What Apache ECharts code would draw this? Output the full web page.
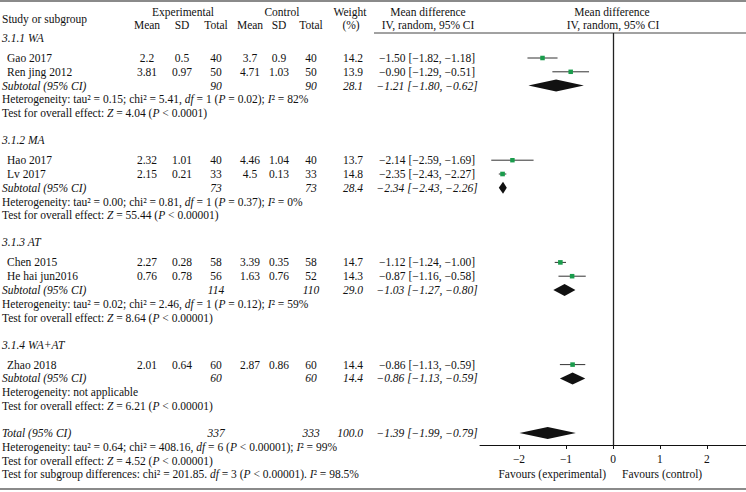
<!DOCTYPE html>
<html><head><meta charset="utf-8">
<script src="https://cdn.jsdelivr.net/npm/echarts@6/dist/echarts.min.js"></script>
<style>html,body{margin:0;padding:0;background:#fff}#c{width:746px;height:492px}</style>
</head><body><div id="c"></div>
<script>
// ================= DATA =================
const groupNames = ["3.1.1 WA", "3.1.2 MA", "3.1.3 AT", "3.1.4 WA+AT"];
const studyNames = ["Gao 2017", "Ren jing 2012", "Hao 2017", "Lv 2017", "Chen 2015", "He hai jun2016", "Zhao 2018"];
const studyGroup = [0, 0, 1, 1, 2, 2, 3];
const expMean  = [2.2, 3.81, 2.32, 2.15, 2.27, 0.76, 2.01];
const expSD    = [0.5, 0.97, 1.01, 0.21, 0.28, 0.78, 0.64];
const expTotal = [40, 50, 40, 33, 58, 56, 60];
const ctlMean  = [3.7, 4.71, 4.46, 4.5, 3.39, 1.63, 2.87];
const ctlSD    = [0.9, 1.03, 1.04, 0.13, 0.35, 0.76, 0.86];
const ctlTotal = [40, 50, 40, 33, 58, 52, 60];
const weight   = [14.2, 13.9, 13.7, 14.8, 14.7, 14.3, 14.4];
const md       = [-1.50, -0.90, -2.14, -2.35, -1.12, -0.87, -0.86];
const mdLow    = [-1.82, -1.29, -2.59, -2.43, -1.24, -1.16, -1.13];
const mdHigh   = [-1.18, -0.51, -1.69, -2.27, -1.00, -0.58, -0.59];

const subExpTotal = [90, 73, 114, 60];
const subCtlTotal = [90, 73, 110, 60];
const subWeight   = [28.1, 28.4, 29.0, 14.4];
const subMd       = [-1.21, -2.34, -1.03, -0.86];
const subLow      = [-1.80, -2.43, -1.27, -1.13];
const subHigh     = [-0.62, -2.26, -0.80, -0.59];
const subTau2 = ["0.15", "0.00", "0.02", null];
const subChi2 = ["5.41", "0.81", "2.46", null];
const subDf   = [1, 1, 1, null];
const subP    = ["= 0.02", "= 0.37", "= 0.12", null];
const subI2   = ["82", "0", "59", null];
const subZ    = ["4.04", "55.44", "8.64", "6.21"];
const subZP   = ["< 0.0001", "< 0.00001", "< 0.00001", "< 0.00001"];

const totalExp = 337, totalCtl = 333, totalWeight = 100.0;
const totalMd = -1.39, totalLow = -1.99, totalHigh = -0.79;
const totalTau2 = "0.64", totalChi2 = "408.16", totalDf = 6, totalP = "< 0.00001", totalI2 = "99";
const totalZ = "4.52", totalZP = "< 0.00001";
const sgChi2 = "201.85", sgDf = 3, sgP = "< 0.00001", sgI2 = "98.5";

const xTicks = [-2, -1, 0, 1, 2];
const xLabelLeft = "Favours (experimental)";
const xLabelRight = "Favours (control)";

// ================= LAYOUT / STYLE =================
const W = 746, H = 492;
const FONT = '"Liberation Serif","Times New Roman",serif';
const FS = 11.5;
const INK = "#111";
const GREEN = "#1a9c4c";
const COL = {name: 2, study: 7, expMean: 147, expSD: 182, expTot: 216, ctlMean: 250, ctlSD: 279, ctlTot: 311, weight: 363, ci: 427};
const L = {h: 13.8, gapHead: 20, gapSec: 27, firstHead: 38};
const GRID = {left: 480, top: 33, axisY: 445};
const XR = [-2.83, 2.83];

// compute row positions
const headY = [], studyY = [], subY = [], hetY = [], testY = [];
let yy = L.firstHead;
for (let g = 0; g < groupNames.length; g++) {
  headY[g] = yy; yy += L.gapHead;
  for (let i = 0; i < studyNames.length; i++) {
    if (studyGroup[i] === g) { studyY[i] = yy; yy += L.h; }
  }
  subY[g] = yy; yy += L.h;
  hetY[g] = yy; yy += L.h;
  testY[g] = yy; yy += L.gapSec;
}
const totalY = yy, totHetY = yy + L.h, totTestY = yy + 2 * L.h, sgY = yy + 3 * L.h;

const neg = s => String(s).replace(/-/g, "\u2212");
const f2 = v => neg(v.toFixed(2));
const ciStr = (m, lo, hi) => `${f2(m)} [${f2(lo)}, ${f2(hi)}]`;

const richStyles = {
  i: {fontFamily: FONT, fontSize: FS, fontStyle: "italic", fill: INK},
  n: {fontFamily: FONT, fontSize: FS, fontStyle: "normal", fill: INK}
};
function T(x, y, text, align, italic) {
  align = align || "left";
  return {
    type: "text", silent: true, z: 10,
    style: {
      text: text, x: x, y: y, fill: INK,
      fontFamily: FONT, fontSize: FS, fontStyle: italic ? "italic" : "normal",
      align: align, verticalAlign: "middle", textAlign: align, textVerticalAlign: "middle",
      rich: richStyles
    }
  };
}
function hetText(tau2, chi2, df, p, i2) {
  return `Heterogeneity: tau\u00b2 = ${tau2}; chi\u00b2 = ${chi2}, {i|df} = ${df} ({i|P} ${p}); {i|I}\u00b2 = ${i2}%`;
}

const g = [];
// rules
g.push({type: "line", silent: true, shape: {x1: 0, y1: 1, x2: W, y2: 1}, style: {stroke: "#8a8a8a", lineWidth: 2}});
g.push({type: "line", silent: true, shape: {x1: 374, y1: GRID.top, x2: W, y2: GRID.top}, style: {stroke: "#444", lineWidth: 1}});
g.push({type: "line", silent: true, shape: {x1: 0, y1: 489, x2: W, y2: 489}, style: {stroke: "#8a8a8a", lineWidth: 2}});

// header
g.push(T(COL.name, 18.5, "Study or subgroup"));
g.push(T(183, 12, "Experimental", "center"));
g.push(T(282, 12, "Control", "center"));
g.push(T(350, 12, "Weight", "center"));
g.push(T(351, 25, "(%)", "center"));
[["Mean", COL.expMean], ["SD", COL.expSD], ["Total", COL.expTot], ["Mean", COL.ctlMean], ["SD", COL.ctlSD], ["Total", COL.ctlTot]]
  .forEach(([t, x]) => g.push(T(x, 25, t, "center")));
g.push(T(428, 12, "Mean difference", "center"));
g.push(T(428, 25, "IV, random, 95% CI", "center"));
g.push(T(612, 12, "Mean difference", "center"));
g.push(T(613, 25, "IV, random, 95% CI", "center"));

// groups
for (let k = 0; k < groupNames.length; k++) {
  g.push(T(COL.name, headY[k], groupNames[k], "left", true));
  g.push(T(COL.name, subY[k], "Subtotal (95% CI)", "left", true));
  g.push(T(COL.expTot, subY[k], String(subExpTotal[k]), "center", true));
  g.push(T(COL.ctlTot, subY[k], String(subCtlTotal[k]), "center", true));
  g.push(T(COL.weight, subY[k], subWeight[k].toFixed(1), "right", true));
  g.push(T(COL.ci, subY[k], ciStr(subMd[k], subLow[k], subHigh[k]), "center", true));
  g.push(T(COL.name, hetY[k], subTau2[k] === null ? "Heterogeneity: not applicable"
    : hetText(subTau2[k], subChi2[k], subDf[k], subP[k], subI2[k])));
  g.push(T(COL.name, testY[k], `Test for overall effect: {i|Z} = ${subZ[k]} ({i|P} ${subZP[k]})`));
}
// studies
for (let i = 0; i < studyNames.length; i++) {
  const y = studyY[i];
  g.push(T(COL.study, y, studyNames[i]));
  g.push(T(COL.expMean, y, String(expMean[i]), "center"));
  g.push(T(COL.expSD, y, String(expSD[i]), "center"));
  g.push(T(COL.expTot, y, String(expTotal[i]), "center"));
  g.push(T(COL.ctlMean, y, String(ctlMean[i]), "center"));
  g.push(T(COL.ctlSD, y, String(ctlSD[i]), "center"));
  g.push(T(COL.ctlTot, y, String(ctlTotal[i]), "center"));
  g.push(T(COL.weight, y, weight[i].toFixed(1), "right"));
  g.push(T(COL.ci, y, ciStr(md[i], mdLow[i], mdHigh[i]), "center"));
}
// total
g.push(T(COL.name, totalY, "Total (95% CI)", "left", true));
g.push(T(COL.expTot, totalY, String(totalExp), "center", true));
g.push(T(COL.ctlTot, totalY, String(totalCtl), "center", true));
g.push(T(COL.weight, totalY, totalWeight.toFixed(1), "right", true));
g.push(T(COL.ci, totalY, ciStr(totalMd, totalLow, totalHigh), "center", true));
g.push(T(COL.name, totHetY, hetText(totalTau2, totalChi2, totalDf, totalP, totalI2)));
g.push(T(COL.name, totTestY, `Test for overall effect: {i|Z} = ${totalZ} ({i|P} ${totalZP})`));
g.push(T(COL.name, sgY, `Test for subgroup differences: chi\u00b2 = ${sgChi2}. {i|df} = ${sgDf} ({i|P} ${sgP}). {i|I}\u00b2 = ${sgI2}%`));
// favours
g.push(T(606, sgY, xLabelLeft, "right"));
g.push(T(622, sgY, xLabelRight, "left"));

// series data
const studyData = md.map((m, i) => [m, mdLow[i], mdHigh[i], studyY[i], weight[i]]);
const diamondData = subMd.map((m, k) => [m, subLow[k], subHigh[k], subY[k]]).concat([[totalMd, totalLow, totalHigh, totalY]]);

const chart = echarts.init(document.getElementById("c"), null, {renderer: "svg", width: W, height: H});
chart.setOption({
  animation: false,
  backgroundColor: "#fff",
  grid: {left: GRID.left, right: 0, top: GRID.top, bottom: H - GRID.axisY, containLabel: false},
  xAxis: {
    type: "value", min: XR[0], max: XR[1],
    splitLine: {show: false},
    axisLine: {show: true, onZero: false, lineStyle: {color: INK, width: 1}},
    axisTick: {show: true, customValues: xTicks, length: 4, lineStyle: {color: INK}},
    axisLabel: {customValues: xTicks, formatter: v => neg(v), fontFamily: FONT, fontSize: FS, color: INK, margin: 8}
  },
  yAxis: {type: "value", min: GRID.top, max: GRID.axisY, inverse: true, show: false},
  graphic: {elements: g},
  series: [
    {
      type: "custom", name: "studies", data: studyData,
      encode: {x: [0, 1, 2], y: 3},
      clip: false,
      renderItem: (params, api) => {
        const lo = api.coord([api.value(1), api.value(3)]);
        const hi = api.coord([api.value(2), api.value(3)]);
        const c = api.coord([api.value(0), api.value(3)]);
        const s = Math.sqrt(api.value(4)) * 1.2;
        return {type: "group", children: [
          {type: "line", shape: {x1: lo[0], y1: lo[1], x2: hi[0], y2: hi[1]}, style: {stroke: "#333", lineWidth: 1}},
          {type: "rect", shape: {x: c[0] - s / 2, y: c[1] - s / 2, width: s, height: s}, style: {fill: GREEN}}
        ]};
      },
      markLine: {
        silent: true, symbol: "none", label: {show: false},
        lineStyle: {color: "#222", width: 1.3, type: "solid"},
        data: [{xAxis: 0}]
      }
    },
    {
      type: "custom", name: "pooled", data: diamondData,
      encode: {x: [0, 1, 2], y: 3},
      clip: false,
      renderItem: (params, api) => {
        const y = api.value(3);
        const lo = api.coord([api.value(1), y]);
        const hi = api.coord([api.value(2), y]);
        const c = api.coord([api.value(0), y]);
        const hh = 6;
        return {type: "polygon", shape: {points: [[lo[0], lo[1]], [c[0], c[1] - hh], [hi[0], hi[1]], [c[0], c[1] + hh]]},
          style: {fill: "#111"}};
      }
    }
  ]
});
</script>
</body></html>
